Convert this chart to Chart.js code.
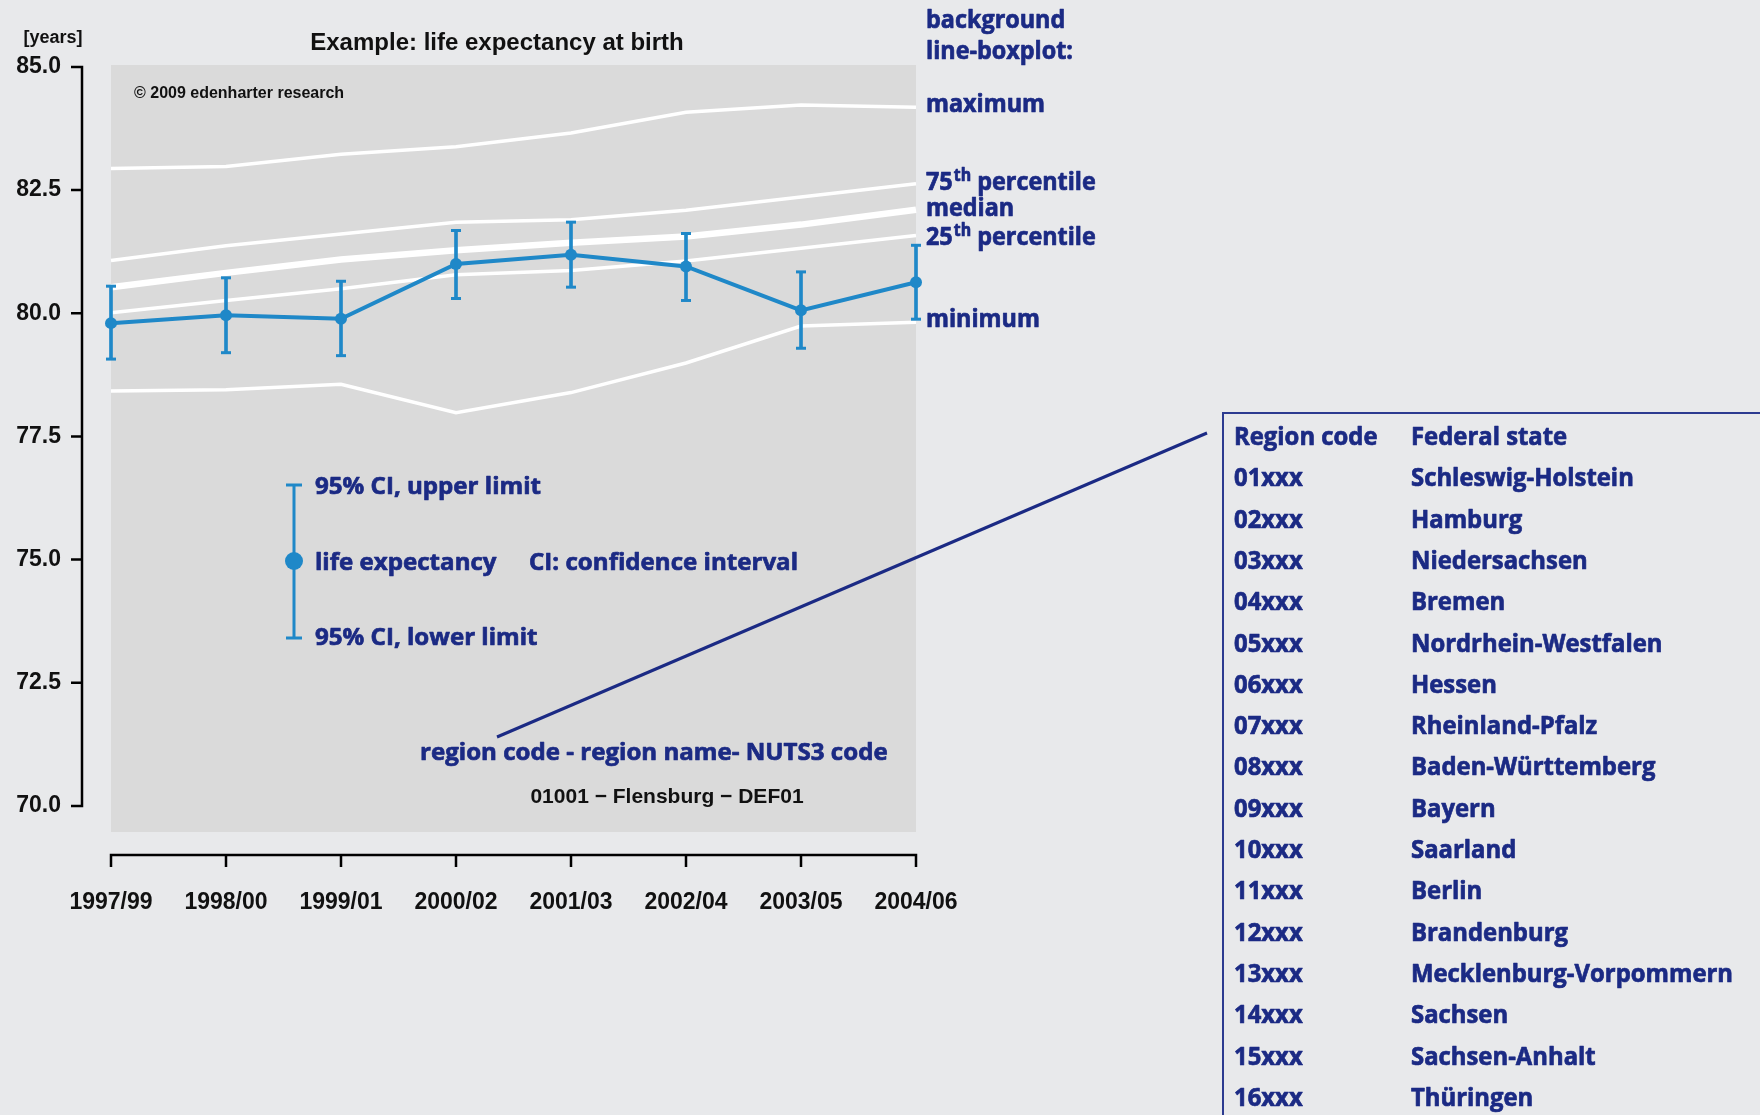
<!DOCTYPE html>
<html>
<head>
<meta charset="utf-8">
<script src="https://cdn.jsdelivr.net/npm/chart.js@4.4.1/dist/chart.umd.min.js"></script>
<style>
  html, body { margin: 0; padding: 0; background: #e8e9eb; }
  canvas { display: block; }
</style>
</head>
<body>
<canvas id="chart" width="1760" height="1115"></canvas>
<script>
// periods (3-year means) on the x axis
const periods = ['1997/99', '1998/00', '1999/01', '2000/02', '2001/03', '2002/04', '2003/05', '2004/06'];

// life expectancy of the region and its 95% CI
const lifeExp = [79.80, 79.96, 79.89, 81.00, 81.19, 80.95, 80.06, 80.63];
const ciUpper = [80.55, 80.72, 80.65, 81.68, 81.85, 81.62, 80.84, 81.38];
const ciLower = [79.07, 79.20, 79.14, 80.30, 80.53, 80.26, 79.29, 79.88];

// background line-boxplot of all regions
const bgMax = [82.94, 82.98, 83.23, 83.38, 83.66, 84.08, 84.23, 84.18];
const bgP75 = [81.07, 81.37, 81.61, 81.85, 81.90, 82.09, 82.36, 82.63];
const bgMedian = [80.53, 80.82, 81.09, 81.28, 81.43, 81.56, 81.80, 82.10];
const bgP25 = [80.01, 80.26, 80.50, 80.78, 80.87, 81.06, 81.32, 81.58];
const bgMin = [78.42, 78.45, 78.56, 77.98, 78.39, 78.99, 79.74, 79.82];

const yTicks = [70, 72.5, 75, 77.5, 80, 82.5, 85];

// region code table
const regionCodes = ['01xxx', '02xxx', '03xxx', '04xxx', '05xxx', '06xxx', '07xxx', '08xxx',
  '09xxx', '10xxx', '11xxx', '12xxx', '13xxx', '14xxx', '15xxx', '16xxx'];
const federalStates = ['Schleswig-Holstein', 'Hamburg', 'Niedersachsen', 'Bremen',
  'Nordrhein-Westfalen', 'Hessen', 'Rheinland-Pfalz', 'Baden-Württemberg', 'Bayern',
  'Saarland', 'Berlin', 'Brandenburg', 'Mecklenburg-Vorpommern', 'Sachsen',
  'Sachsen-Anhalt', 'Thüringen'];

const BLUE = '#1f88c8';
const NAVY = '#1b2a84';
const PAGE = '#e8e9eb';
const PLOT = '#dadada';
const SANS = "'Liberation Sans', Arial, sans-serif";
const MYRIAD = "'Open Sans', 'Noto Sans', sans-serif";

// draw text, optionally squeezed horizontally by sx; navy text gets a thin
// stroke so it looks as heavy as the original
function text(ctx, s, x, y, font, color, align, sx) {
  sx = sx || 1;
  ctx.save();
  ctx.font = font;
  ctx.fillStyle = color;
  ctx.textBaseline = 'alphabetic';
  ctx.textAlign = 'left';
  const w = ctx.measureText(s).width * sx;
  if (align === 'center') x -= w / 2;
  if (align === 'right') x -= w;
  ctx.translate(x, y);
  ctx.scale(sx, 1);
  ctx.fillText(s, 0, 0);
  if (color === NAVY) {
    ctx.strokeStyle = color;
    ctx.lineWidth = 0.7;
    ctx.lineJoin = 'round';
    ctx.strokeText(s, 0, 0);
  }
  ctx.restore();
  return w;
}

function squeeze(ctx, s, font, target) {
  ctx.save();
  ctx.font = font;
  const w = ctx.measureText(s).width;
  ctx.restore();
  return target / w;
}

function pctLabel(ctx, num, rest, x, y, size, sx) {
  const big = 'bold ' + size + 'px ' + MYRIAD;
  const small = 'bold ' + Math.round(size * 0.66) + 'px ' + MYRIAD;
  let cx = x;
  cx += text(ctx, num, cx, y, big, NAVY, 'left', sx);
  cx += text(ctx, 'th', cx + 1, y - size * 0.38, small, NAVY, 'left', sx) + 1;
  text(ctx, rest, cx, y, big, NAVY, 'left', sx);
}

const decorations = {
  id: 'decorations',
  beforeDraw(chart) {
    const { ctx, chartArea: a } = chart;
    ctx.save();
    ctx.fillStyle = PAGE;
    ctx.fillRect(0, 0, chart.width, chart.height);
    ctx.fillStyle = PLOT;
    ctx.fillRect(a.left, a.top, a.right - a.left, a.bottom - a.top);
    ctx.restore();
  },
  afterDraw(chart) {
    const { ctx } = chart;
    const x = chart.scales.x;
    const y = chart.scales.y;

    // detached axes
    ctx.save();
    ctx.strokeStyle = '#000';
    ctx.lineWidth = 2.5;
    ctx.lineCap = 'butt';
    const ax = 82;
    ctx.beginPath();
    ctx.moveTo(ax, y.getPixelForValue(70));
    ctx.lineTo(ax, y.getPixelForValue(85));
    yTicks.forEach((t) => {
      const py = y.getPixelForValue(t);
      ctx.moveTo(ax + 1.25, py);
      ctx.lineTo(ax - 11, py);
    });
    const ay = 855;
    ctx.moveTo(x.getPixelForValue(0), ay);
    ctx.lineTo(x.getPixelForValue(periods.length - 1), ay);
    periods.forEach((p, i) => {
      const px = x.getPixelForValue(i);
      ctx.moveTo(px, ay - 1.25);
      ctx.lineTo(px, ay + 12);
    });
    ctx.stroke();
    ctx.restore();

    // titles
    text(ctx, '[years]', 53, 43, 'bold 18px ' + SANS, '#111', 'center');
    text(ctx, 'Example: life expectancy at birth', 497, 50, 'bold 24px ' + SANS, '#111', 'center');
    text(ctx, '\u00a9 2009 edenharter research', 134, 98, 'bold 16px ' + SANS, '#111', 'left');

    // boxplot labels on the right
    const rf = 'bold 25px ' + MYRIAD;
    const rsx = squeeze(ctx, 'maximum', rf, 119);
    const rx = 926;
    text(ctx, 'background', rx, 28, rf, NAVY, 'left', rsx);
    text(ctx, 'line-boxplot:', rx, 59, rf, NAVY, 'left', rsx);
    text(ctx, 'maximum', rx, 112, rf, NAVY, 'left', rsx);
    pctLabel(ctx, '75', ' percentile', rx, 190, 25, rsx);
    text(ctx, 'median', rx, 216, rf, NAVY, 'left', rsx);
    pctLabel(ctx, '25', ' percentile', rx, 245, 25, rsx);
    text(ctx, 'minimum', rx, 327, rf, NAVY, 'left', rsx);

    // legend for the CI bar
    ctx.save();
    ctx.strokeStyle = BLUE;
    ctx.fillStyle = BLUE;
    ctx.lineWidth = 3;
    const lx = 294;
    ctx.beginPath();
    ctx.moveTo(lx, 485); ctx.lineTo(lx, 638);
    ctx.moveTo(lx - 8, 485); ctx.lineTo(lx + 8, 485);
    ctx.moveTo(lx - 8, 638); ctx.lineTo(lx + 8, 638);
    ctx.stroke();
    ctx.beginPath();
    ctx.arc(lx, 561, 9, 0, Math.PI * 2);
    ctx.fill();
    ctx.restore();

    const lf = 'bold 24px ' + MYRIAD;
    const lsx = squeeze(ctx, '95% CI, upper limit', lf, 226);
    text(ctx, '95% CI, upper limit', 315, 494, lf, NAVY, 'left', lsx);
    text(ctx, 'life expectancy', 315, 570, lf, NAVY, 'left', lsx);
    text(ctx, 'CI: confidence interval', 529, 570, lf, NAVY, 'left', lsx);
    text(ctx, '95% CI, lower limit', 315, 645, lf, NAVY, 'left', lsx);
    text(ctx, 'region code - region name- NUTS3 code', 420, 760, lf, NAVY, 'left', lsx);
    text(ctx, '01001 \u2212 Flensburg \u2212 DEF01', 667, 803, 'bold 21px ' + SANS, '#111', 'center');

    // pointer line to the table
    ctx.save();
    ctx.strokeStyle = NAVY;
    ctx.lineWidth = 3;
    ctx.beginPath();
    ctx.moveTo(497, 737);
    ctx.lineTo(1207, 433);
    ctx.stroke();
    ctx.restore();

    // table of region codes
    ctx.save();
    ctx.strokeStyle = '#2c3b90';
    ctx.lineWidth = 2;
    ctx.beginPath();
    ctx.moveTo(1223, chart.height);
    ctx.lineTo(1223, 413);
    ctx.lineTo(chart.width, 413);
    ctx.stroke();
    ctx.restore();

    const tf = 'bold 25px ' + MYRIAD;
    const tsx = squeeze(ctx, 'Mecklenburg-Vorpommern', tf, 322);
    const rowH = 41.3;
    text(ctx, 'Region code', 1234, 445, tf, NAVY, 'left', tsx);
    text(ctx, 'Federal state', 1411, 445, tf, NAVY, 'left', tsx);
    regionCodes.forEach((code, i) => {
      const by = 445 + (i + 1) * rowH;
      text(ctx, code, 1234, by, tf, NAVY, 'left', tsx);
      text(ctx, federalStates[i], 1411, by, tf, NAVY, 'left', tsx);
    });
  },
};

const whiteLine = (label, data, width) => ({
  type: 'line',
  label,
  data,
  borderColor: '#ffffff',
  borderWidth: width,
  pointRadius: 0,
  tension: 0,
  order: 10,
});

// eslint-disable-next-line no-new, no-undef
new Chart(document.getElementById('chart'), {
  type: 'line',
  data: {
    labels: periods,
    datasets: [
      {
        type: 'line',
        label: 'life expectancy',
        data: lifeExp,
        borderColor: BLUE,
        borderWidth: 4,
        pointRadius: 6,
        pointBackgroundColor: BLUE,
        pointBorderWidth: 0,
        tension: 0,
        clip: false,
        order: 0,
      },
      {
        type: 'line',
        label: 'CI upper',
        data: ciUpper,
        showLine: false,
        pointStyle: 'line',
        pointRadius: 5,
        pointBorderWidth: 3,
        pointBorderColor: BLUE,
        clip: false,
        order: 1,
      },
      {
        type: 'line',
        label: 'CI lower',
        data: ciLower,
        showLine: false,
        pointStyle: 'line',
        pointRadius: 5,
        pointBorderWidth: 3,
        pointBorderColor: BLUE,
        clip: false,
        order: 1,
      },
      {
        type: 'bar',
        label: 'CI',
        data: periods.map((p, i) => [ciLower[i], ciUpper[i]]),
        backgroundColor: BLUE,
        borderWidth: 0,
        barThickness: 3,
        clip: false,
        order: 2,
      },
      whiteLine('maximum', bgMax, 3.5),
      whiteLine('75th percentile', bgP75, 3.5),
      whiteLine('median', bgMedian, 6.5),
      whiteLine('25th percentile', bgP25, 3.5),
      whiteLine('minimum', bgMin, 3.5),
    ],
  },
  options: {
    responsive: false,
    devicePixelRatio: 1,
    animation: false,
    layout: { padding: { left: 0, top: 65, right: 844, bottom: 183 } },
    plugins: {
      legend: { display: false },
      tooltip: { enabled: false },
    },
    scales: {
      x: {
        type: 'category',
        offset: false,
        grid: { display: false, drawTicks: false },
        border: { display: false },
        ticks: {
          padding: 57,
          maxRotation: 0,
          autoSkip: false,
          color: '#111',
          font: { family: SANS, size: 23, weight: 'bold' },
        },
        afterFit: (s) => { s.height = 100; },
      },
      y: {
        type: 'linear',
        min: 69.47,
        max: 85.04,
        beginAtZero: false,
        grid: { display: false, drawTicks: false },
        border: { display: false },
        afterBuildTicks: (s) => { s.ticks = yTicks.map((v) => ({ value: v })); },
        ticks: {
          padding: 50,
          color: '#111',
          font: { family: SANS, size: 23, weight: 'bold' },
          callback: (v) => Number(v).toFixed(1),
        },
        afterFit: (s) => { s.width = 111; },
      },
    },
  },
  plugins: [decorations],
});
</script>
</body>
</html>
